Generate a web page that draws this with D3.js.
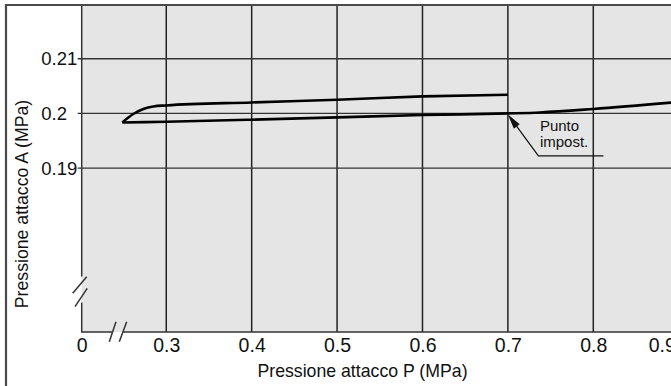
<!DOCTYPE html>
<html>
<head>
<meta charset="utf-8">
<script src="https://cdn.jsdelivr.net/npm/d3@7"></script>
<style>
  html, body { margin: 0; padding: 0; background: #fff; }
  svg { display: block; font-family: "Liberation Sans", Arial, Helvetica, sans-serif; }
</style>
</head>
<body>
<svg id="chart" width="671" height="386"></svg>
<script>
// Hysteresis of the output pressure A against the supply pressure P
const xTicks = [0, 0.3, 0.4, 0.5, 0.6, 0.7, 0.8, 0.9];
const xTickLabels = ["0", "0.3", "0.4", "0.5", "0.6", "0.7", "0.8", "0.9"];
const yTicks = [0.19, 0.2, 0.21];
const yTickLabels = ["0.19", "0.2", "0.21"];

// Upper branch (rising pressure), ends at 0.7 MPa
const upperP = [0.2485, 0.2614, 0.2731, 0.2848, 0.3, 0.4, 0.5, 0.6, 0.7];
const upperA = [0.19835, 0.19989, 0.20081, 0.20128, 0.20146, 0.20201, 0.20251, 0.20311, 0.20342];

// Lower branch (falling pressure), runs across the full range
const lowerP = [0.2485, 0.3, 0.4, 0.5, 0.6, 0.7, 0.7375, 0.8, 0.9];
const lowerA = [0.19835, 0.19848, 0.19885, 0.19927, 0.19971, 0.2, 0.20018, 0.20081, 0.2021];

// Set point marked on the lower branch
const setPointP = [0.7];
const setPointA = [0.2];
const setPointText = ["Punto", "impost."];

const svg = d3.select("#chart");
const W = 671, H = 386;

// Broken axes: the stretch between 0 and the first tick is compressed
const x = d3.scaleLinear().domain([0, 0.21, 0.9]).range([81.7, 89.4, 678.7]);
const y = d3.scaleLinear().domain([0, 0.17, 0.22]).range([332, 277.4, 4.1]);

const plotTop = 6, plotLeft = x(0), plotBottom = y(0);

// Outer frame
svg.append("path")
  .attr("d", `M6,${H + 5} V5 H${W + 5}`)
  .attr("fill", "none").attr("stroke", "#4a4a4a").attr("stroke-width", 2.2);

// Plot background
svg.append("rect")
  .attr("x", plotLeft).attr("y", plotTop)
  .attr("width", W - plotLeft).attr("height", plotBottom - plotTop)
  .attr("fill", "#e5e5e5");

// Grid
svg.append("g").selectAll("line").data(xTicks.filter(d => d > 0)).join("line")
  .attr("x1", d => x(d)).attr("x2", d => x(d))
  .attr("y1", plotTop).attr("y2", plotBottom)
  .attr("stroke", "#222").attr("stroke-width", 1.5);
svg.append("g").selectAll("line").data(yTicks).join("line")
  .attr("x1", plotLeft - 4).attr("x2", W)
  .attr("y1", d => y(d)).attr("y2", d => y(d))
  .attr("stroke", "#333").attr("stroke-width", 1.3);

// Axis lines with break marks
function seg(d) {
  svg.append("path").attr("d", d)
    .attr("stroke", "#333").attr("stroke-width", 1.5).attr("fill", "none");
}
seg(`M${plotLeft},${plotTop} V276.5`);
seg(`M${plotLeft},302.5 V${plotBottom} H112.5`);
seg(`M123,${plotBottom} H${W}`);
seg(`M86.7,276.7 L72.7,293.3`);
seg(`M87.2,288.3 L75,306.7`);
seg(`M116,321.7 L109.3,341.7`);
seg(`M126.7,321.7 L119.3,341.7`);

// Tick labels (the last one sits a little inside the frame edge)
const xAxis = d3.axisBottom(x).tickValues(xTicks).tickSize(0).tickPadding(0)
  .tickFormat((d, i) => xTickLabels[i]);
const gx = svg.append("g").attr("transform", `translate(0,${plotBottom})`).call(xAxis);
gx.select(".domain").remove();
gx.selectAll("text").attr("y", 19.5).attr("dy", 0)
  .attr("dx", d => d === 0.9 ? -17 : 0)
  .attr("font-size", 19.5).attr("fill", "#111").attr("font-family", null);

const yAxis = d3.axisLeft(y).tickValues(yTicks).tickSize(0)
  .tickFormat((d, i) => yTickLabels[i]);
const gy = svg.append("g").attr("transform", `translate(${plotLeft},0)`).call(yAxis);
gy.select(".domain").remove();
gy.selectAll("text").attr("x", -40.5).attr("text-anchor", "start")
  .attr("font-size", 18.5).attr("fill", "#111").attr("font-family", null);

// Axis titles
svg.append("text")
  .attr("x", 362.5).attr("y", 376.5).attr("text-anchor", "middle")
  .attr("font-size", 17.7).attr("fill", "#111")
  .text("Pressione attacco P (MPa)");
svg.append("text")
  .attr("transform", "translate(28.3,204) rotate(-90)").attr("text-anchor", "middle")
  .attr("font-size", 17.7).attr("fill", "#111")
  .text("Pressione attacco A (MPa)");

// Curves
const line = d3.line().x(d => x(d[0])).y(d => y(d[1])).curve(d3.curveMonotoneX);
svg.append("clipPath").attr("id", "plotClip").append("rect")
  .attr("x", plotLeft).attr("y", plotTop).attr("width", W - plotLeft).attr("height", plotBottom - plotTop);
const curves = svg.append("g").attr("clip-path", "url(#plotClip)");
[[upperP, upperA], [lowerP, lowerA]].forEach(([ps, as]) => {
  curves.append("path")
    .datum(ps.map((p, i) => [p, as[i]]))
    .attr("d", line)
    .attr("fill", "none").attr("stroke", "#000").attr("stroke-width", 2.6)
    .attr("stroke-linejoin", "round").attr("stroke-linecap", "butt");
});

// Set point annotation: leader with arrowhead and underlined label
const tipX = x(setPointP[0]), tipY = y(setPointA[0]) + 1;
const footX = tipX + 30.5, footY = tipY + 41.5;
const ann = svg.append("g").attr("stroke", "#111").attr("fill", "none");
ann.append("path")
  .attr("d", `M${footX + 65},${footY} H${footX} L${tipX + 7},${tipY + 9.5}`)
  .attr("stroke-width", 1.2);
const ang = Math.atan2(footY - tipY, footX - tipX);
const len = 15, half = 3.6;
const bx = tipX + len * Math.cos(ang), by = tipY + len * Math.sin(ang);
ann.append("path")
  .attr("d", `M${tipX},${tipY} L${bx - half * Math.sin(ang)},${by + half * Math.cos(ang)} L${bx + half * Math.sin(ang)},${by - half * Math.cos(ang)} Z`)
  .attr("fill", "#111").attr("stroke", "none");
svg.append("g").selectAll("text").data(setPointText).join("text")
  .attr("x", footX + 1.5).attr("y", (d, i) => footY - 24.5 + i * 16)
  .attr("font-size", 15).attr("fill", "#111")
  .text(d => d);
</script>
</body>
</html>
